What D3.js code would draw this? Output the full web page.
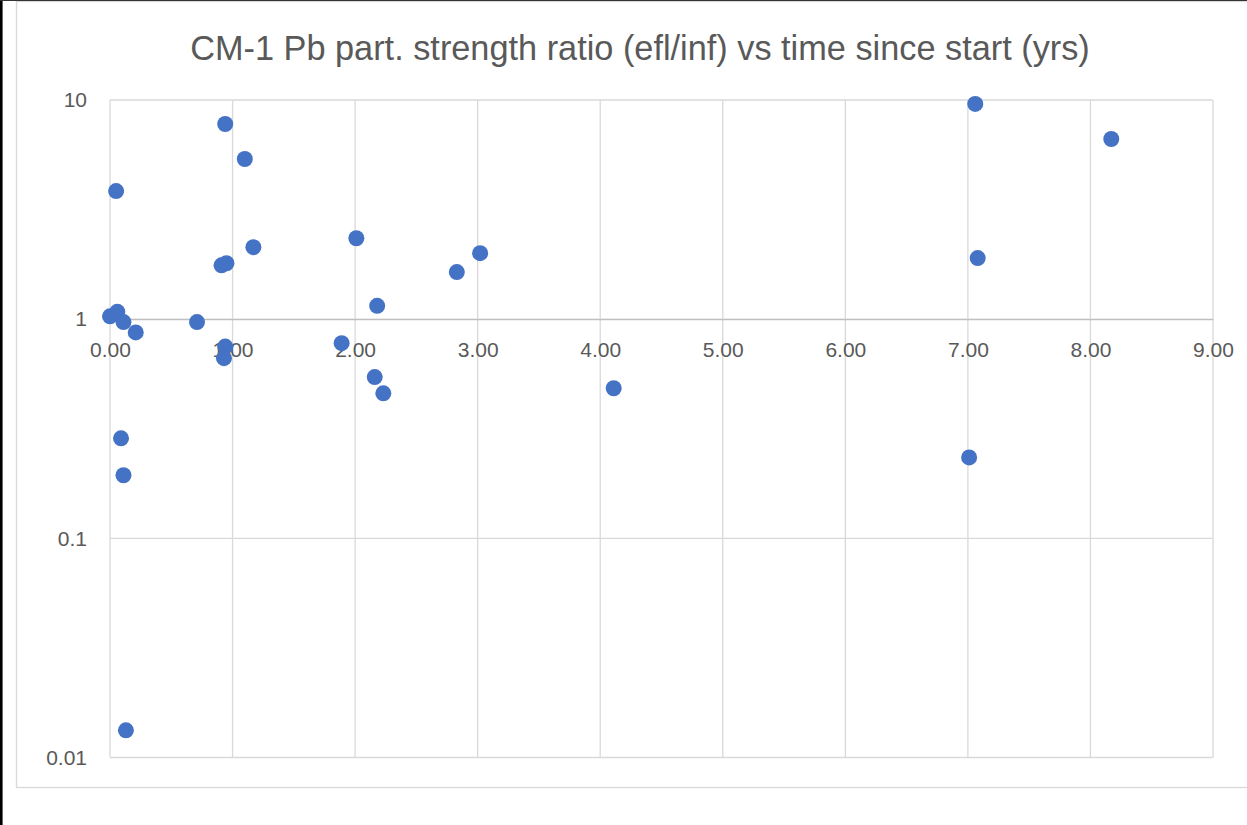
<!DOCTYPE html>
<html>
<head>
    <meta charset="utf-8">
    <title>CM-1 Pb ratio</title>
    <script src="https://cdnjs.cloudflare.com/ajax/libs/d3/7.8.5/d3.min.js"></script>
    <style>
        body{ margin: 0; background: #fff; }
        text{ font-family: "Liberation Sans", "DejaVu Sans", sans-serif; fill: #595959; }
    </style>
</head>
<body>
<script>
    // values
    const timeYears = [0.00, 0.06, 0.11, 0.21, 0.05, 0.09, 0.11, 0.13, 0.71, 0.94,
        0.91, 0.95, 0.94, 0.93, 1.10, 1.17, 1.89, 2.01, 2.18, 2.16,
        2.23, 2.83, 3.02, 4.11, 7.06, 7.08, 7.01, 8.17];
    const ratio = [1.03, 1.08, 0.97, 0.87, 3.84, 0.286, 0.194, 0.0133, 0.97, 7.77,
        1.76, 1.80, 0.75, 0.664, 5.38, 2.13, 0.777, 2.34, 1.15, 0.544,
        0.459, 1.64, 2.00, 0.484, 9.6, 1.90, 0.234, 6.64];
    const xTicks = [0, 1, 2, 3, 4, 5, 6, 7, 8, 9];
    const yTicks = [0.01, 0.1, 1, 10];
    const yTickLabels = ['0.01', '0.1', '1', '10'];
    const title = 'CM-1 Pb part. strength ratio (efl/inf) vs time since start (yrs)';

    const W = 1247, H = 825;
    const svg = d3.select('body').append('svg')
        .attr('width', W).attr('height', H);

    // outer frame like the screenshot
    svg.append('rect').attr('x', 16.5).attr('y', 1.5)
        .attr('width', W + 10).attr('height', 786)
        .attr('fill', 'none').attr('stroke', '#d9d9d9').attr('stroke-width', 1.3);
    svg.append('line').attr('x1', 1.3).attr('x2', 1.3).attr('y1', 0).attr('y2', H)
        .attr('stroke', '#000').attr('stroke-width', 2.6);
    svg.append('line').attr('x1', 0).attr('x2', W).attr('y1', 0.5).attr('y2', 0.5)
        .attr('stroke', '#333').attr('stroke-width', 1);

    const x = d3.scaleLinear().domain([0, 9]).range([110, 1213]);
    const y = d3.scaleLog().domain([0.01, 10]).range([757.5, 100]);

    // grid
    svg.append('g').selectAll('line').data(xTicks).enter().append('line')
        .attr('x1', d => x(d)).attr('x2', d => x(d))
        .attr('y1', y(10)).attr('y2', y(0.01))
        .attr('stroke', '#d9d9d9').attr('stroke-width', 1.3);
    svg.append('g').selectAll('line').data(yTicks).enter().append('line')
        .attr('x1', x(0)).attr('x2', x(9))
        .attr('y1', d => y(d)).attr('y2', d => y(d))
        .attr('stroke', '#d9d9d9').attr('stroke-width', 1.3);

    // x axis crosses at 1
    const xAxis = d3.axisBottom(x).tickValues(xTicks)
        .tickFormat(d3.format('.2f')).tickSize(0).tickPadding(23);
    const gx = svg.append('g').attr('transform', `translate(0,${y(1)})`).call(xAxis);
    gx.select('.domain').attr('stroke', '#bfbfbf').attr('stroke-width', 1.3);
    gx.selectAll('text').attr('font-size', 21).style('fill', '#595959')
        .attr('font-family', '"Liberation Sans", sans-serif');

    const yAxis = d3.axisLeft(y).tickValues(yTicks)
        .tickFormat((d, i) => yTickLabels[i]).tickSize(0).tickPadding(23);
    const gy = svg.append('g').attr('transform', `translate(${x(0)},0)`).call(yAxis);
    gy.select('.domain').remove();
    gy.selectAll('text').attr('font-size', 21).style('fill', '#595959')
        .attr('font-family', '"Liberation Sans", sans-serif');

    // points
    const pts = timeYears.map((t, i) => ({t: t, r: ratio[i]}));
    svg.append('g').selectAll('circle').data(pts).enter().append('circle')
        .attr('cx', d => x(d.t)).attr('cy', d => y(d.r)).attr('r', 8)
        .attr('fill', '#4472c4');

    // title, sized to the width it takes in the picture
    const tt = svg.append('text').attr('x', 640).attr('y', 60)
        .attr('text-anchor', 'middle').attr('font-size', 28).text(title);
    const w = tt.node().getComputedTextLength();
    tt.attr('font-size', 28 * 900 / w);
</script>
</body>
</html>
